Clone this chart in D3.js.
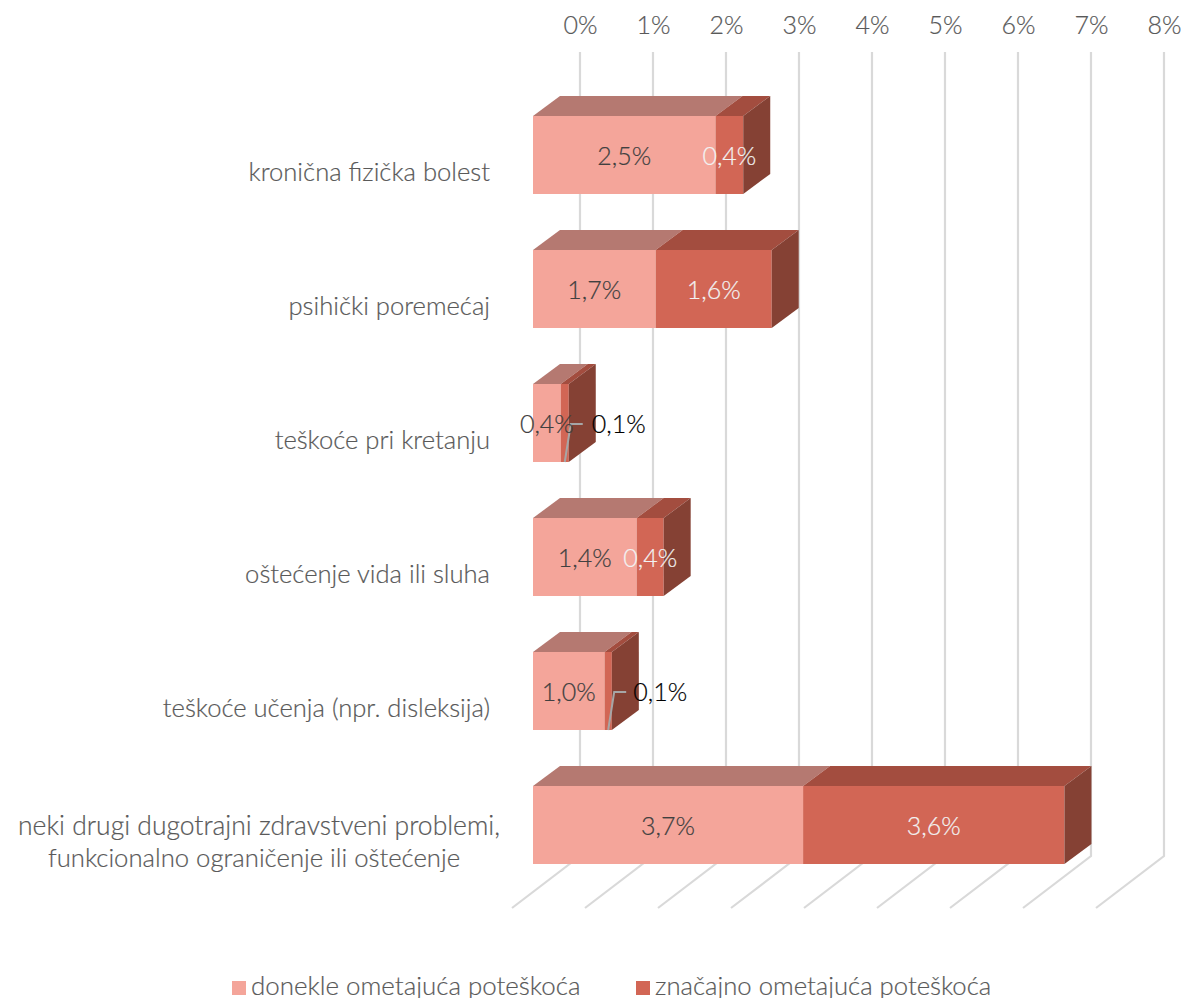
<!DOCTYPE html>
<html><head><meta charset="utf-8">
<script src="https://cdn.jsdelivr.net/npm/d3@7/dist/d3.min.js"></script>
<style>
html,body{margin:0;padding:0;background:#fff;overflow:hidden}
svg{display:block}
text{font-family:Lato,"Open Sans",sans-serif;font-weight:300;stroke:currentColor;stroke-width:.2px}
</style></head><body><svg id="c" width="1183" height="998"></svg>
<script>
const categories=[["kronična fizička bolest"],["psihički poremećaj"],["teškoće pri kretanju"],["oštećenje vida ili sluha"],["teškoće učenja (npr. disleksija)"],["neki drugi dugotrajni zdravstveni problemi,","funkcionalno ograničenje ili oštećenje"]];
const moderate=[2.5,1.68,0.38,1.42,0.98,3.7];
const severe=[0.38,1.59,0.11,0.37,0.1,3.58];
const moderateLabels=["2,5%","1,7%","0,4%","1,4%","1,0%","3,7%"];
const severeLabels=["0,4%","1,6%","0,1%","0,4%","0,1%","3,6%"];
const ticks=[0,1,2,3,4,5,6,7,8];
const seriesNames=["donekle ometajuća poteškoća","značajno ometajuća poteškoća"];
const svg=d3.select("#c");
const x=d3.scaleLinear().domain([0,8]).range([580,1164]);
const y=d3.scaleBand().domain(d3.range(6)).range([116,864]).paddingInner(0.418).paddingOuter(0);
const gridTop=52,floorY=856,floorDx=68,floorDy=52,offX=47,depthX=27,depthY=20;
const fx=v=>x(v)-offX;
const C={a:{front:"#F4A59A",top:"#B57971"},b:{front:"#D26655",top:"#A34D3F",side:"#854134"}};
const grid=svg.append("g").attr("stroke","#D9D9D9").attr("stroke-width",2.2).attr("fill","none");
grid.selectAll("path").data(ticks).join("path")
 .attr("d",d=>`M${x(d)},${gridTop}V${floorY}L${x(d)-floorDx},${floorY+floorDy}`);
const axis=svg.append("g").attr("transform","translate(0,34)").call(d3.axisTop(x).tickValues(ticks).tickSize(0).tickPadding(0).tickFormat(d=>d+"%"));
axis.select(".domain").remove();
axis.selectAll("text").attr("font-size",25).attr("fill","#595959").style("color","#595959").attr("y",0).attr("dy",0);
const h=()=>y.bandwidth();
const rows=svg.selectAll("g.row").data(categories.map((c,i)=>i)).join("g").attr("class","row");
rows.each(function(i){
 const g=d3.select(this),T=y(i),B=T+h(),a=moderate[i],b=severe[i];
 const xa0=fx(0),xa1=fx(a),xb1=fx(a+b);
 g.append("rect").attr("x",xa0).attr("y",T).attr("width",xa1-xa0).attr("height",h()).attr("fill",C.a.front);
 g.append("path").attr("fill",C.a.top).attr("d",`M${xa0},${T}l${depthX},${-depthY}H${xa1+depthX}L${xa1},${T}Z`);
 g.append("rect").attr("x",xa1).attr("y",T).attr("width",xb1-xa1).attr("height",h()).attr("fill",C.b.front);
 g.append("path").attr("fill",C.b.top).attr("d",`M${xa1},${T}l${depthX},${-depthY}H${xb1+depthX}L${xb1},${T}Z`);
 g.append("path").attr("fill",C.b.side).attr("d",`M${xb1},${T}l${depthX},${-depthY}V${B-depthY}L${xb1},${B}Z`);
});
const tx=(i,s)=>{const a=moderate[i],b=severe[i];return s?(fx(a)+fx(a+b))/2:(fx(0)+fx(a))/2;};
const leaderRows=[2,4];
svg.append("g").attr("fill","none").attr("stroke","#A6A6A6").attr("stroke-width",2)
 .selectAll("path").data(leaderRows).join("path")
 .attr("d",i=>{const sx=tx(i,1),B=y(i)+h(),ly=y(i)+h()/2+1;return `M${sx},${B}L${sx+6},${ly}H${sx+18}`;});
const lab=svg.append("g").attr("font-size",25).attr("text-anchor","middle");
moderateLabels.forEach((t,i)=>lab.append("text").attr("x",tx(i,0)).attr("y",y(i)+h()/2+10).attr("fill","#404040").style("color","#404040").text(t));
severeLabels.forEach((t,i)=>{
 const lead=leaderRows.includes(i),col=lead?"#000":"#F2F2F2";
 lab.append("text").attr("x",lead?tx(i,1)+(i===2?54:52):tx(i,1)).attr("y",y(i)+h()/2+10).attr("fill",col).style("color",col).text(t);
});
const cat=svg.append("g").attr("font-size",25.6).attr("fill","#595959").style("color","#595959");
const lineCentres=[259,254];
categories.forEach((lines,i)=>{
 const cy=y(i)+h()/2+26;
 if(lines.length===1) cat.append("text").attr("x",490).attr("y",cy).attr("text-anchor","end").text(lines[0]);
 else lines.forEach((l,j)=>cat.append("text").attr("x",lineCentres[j]).attr("y",cy-16+j*32).attr("text-anchor","middle").attr("font-size",j?25.7:26.5).text(l));
});
const legX=[232,636];
const leg=svg.append("g").style("color","#595959");
seriesNames.forEach((n,i)=>{
 leg.append("rect").attr("x",legX[i]).attr("y",981).attr("width",14).attr("height",14).attr("fill",i?C.b.front:C.a.front);
 leg.append("text").attr("x",legX[i]+19).attr("y",995).attr("font-size",i?25.7:25.9).attr("fill","#595959").text(n);
});
</script></body></html>
